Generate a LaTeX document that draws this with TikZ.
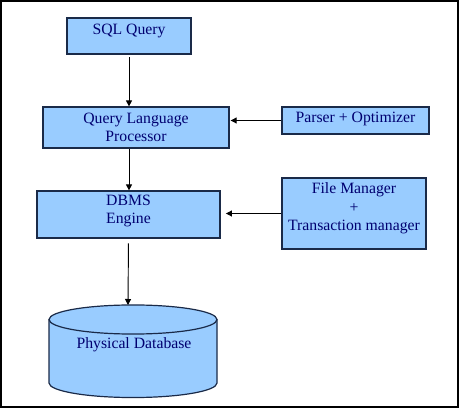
\documentclass[tikz,border=0pt]{standalone}
\usepackage{fontspec}
\setmainfont{Liberation Serif}
\newfontfamily\diagfont{Liberation Serif}
\usetikzlibrary{arrows.meta}
\definecolor{boxfill}{HTML}{99CCFF}
\definecolor{boxline}{HTML}{1A2A48}
\definecolor{navytext}{HTML}{000070}
\tikzset{
  lbl/.style={font=\diagfont\fontsize{11.8pt}{14pt}\selectfont,text=navytext,align=center},
  box/.style={lbl,draw=boxline,fill=boxfill,line width=0.9pt,inner ysep=2pt},
  arr/.style={-{Triangle[length=4.5pt,width=4.5pt]},line width=0.7pt,black}
}
\begin{document}
\begin{tikzpicture}[x=0.75pt,y=-0.75pt]
\useasboundingbox (0,0) rectangle (460,409);
\draw[line width=1.1pt] (0.8,0.8) rectangle (458,407);

% boxes
\node[box,minimum width=93pt,minimum height=27pt,text depth=10.8pt] (sql) at (129,36) {SQL Query};
\node[box,minimum width=139.5pt,minimum height=30.75pt] (qlp) at (136,127.5) {Query Language\\Processor};
\node[box,minimum width=110.25pt,minimum height=20.25pt,text depth=5.5pt] (parser) at (355.5,120.5) {Parser + Optimizer};
\node[box,minimum width=137.25pt,minimum height=35.25pt,text depth=8pt] (dbms) at (128.5,214.5) {DBMS\\Engine};
\node[box,minimum width=108pt,minimum height=53.25pt,text depth=10.4pt] (filemgr) at (354,213.5) {File Manager\\+\\Transaction manager};

% database cylinder
\draw[draw=boxline,fill=boxfill,line width=0.9pt] (49,319.5) -- (49,383)
  arc[start angle=180,end angle=360,x radius=63pt,y radius=10.9pt] -- (217,319.5);
\draw[draw=boxline,fill=boxfill,line width=0.9pt] (133,319.5) ellipse[x radius=63pt,y radius=10.9pt];
\node[lbl] (dbtext) at (134,345) {Physical Database};
\coordinate (dbtop) at (128,305);

% arrows
\draw[arr,shorten <=2pt] (sql.south) -- (sql.south |- qlp.north);
\draw[arr,shorten >=0.8pt] (parser.west) -- (parser.west -| qlp.east);
\draw[arr] ([xshift=-5.25pt]qlp.south) -- ([xshift=-5.25pt]qlp.south |- dbms.north);
\draw[arr,shorten >=4pt] (filemgr.west) -- (filemgr.west -| dbms.east);
\draw[arr,shorten <=3.5pt] (dbms.south) -- (dbtop);
\end{tikzpicture}
\end{document}
